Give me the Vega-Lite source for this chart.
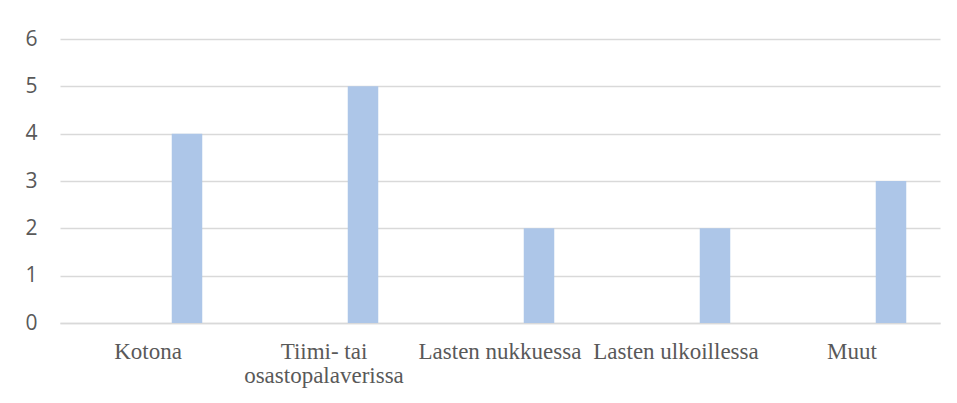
{
  "$schema": "https://vega.github.io/schema/vega-lite/v6.json",
  "autosize": "none",
  "width": 880,
  "height": 284,
  "padding": {"left": 60, "top": 39, "right": 17, "bottom": 80},
  "background": "white",
  "config": {"view": {"stroke": null}},
  "data": {
    "values": [
      {"category": "Kotona", "value": 4},
      {"category": "Tiimi- tai osastopalaverissa", "value": 5},
      {"category": "Lasten nukkuessa", "value": 2},
      {"category": "Lasten ulkoillessa", "value": 2},
      {"category": "Muut", "value": 3}
    ]
  },
  "mark": {"type": "bar", "width": 30.5, "xOffset": 39, "color": "#adc6e8"},
  "encoding": {
    "x": {
      "field": "category",
      "type": "nominal",
      "sort": null,
      "scale": {"paddingInner": 0, "paddingOuter": 0},
      "axis": {
        "title": null,
        "labelAngle": 0,
        "labelFont": "Liberation Serif",
        "labelFontSize": 23,
        "labelColor": "#595959",
        "labelLimit": 0,
        "labelOverlap": false,
        "labelBaseline": "top",
        "labelLineHeight": 24,
        "labelPadding": 17,
        "labelExpr": "datum.label == 'Tiimi- tai osastopalaverissa' ? ['Tiimi- tai', 'osastopalaverissa'] : datum.label",
        "ticks": false,
        "tickSize": 0,
        "domainColor": "#d9d9d9",
        "domainWidth": 1.5
      }
    },
    "y": {
      "field": "value",
      "type": "quantitative",
      "scale": {"domain": [0, 6], "nice": false},
      "axis": {
        "title": null,
        "values": [0, 1, 2, 3, 4, 5, 6],
        "labelFont": "Open Sans",
        "labelFontSize": 21,
        "labelColor": "#595959",
        "labelPadding": 23,
        "ticks": false,
        "tickSize": 0,
        "domain": false,
        "gridColor": "#d9d9d9",
        "gridWidth": 1.5
      }
    }
  }
}
